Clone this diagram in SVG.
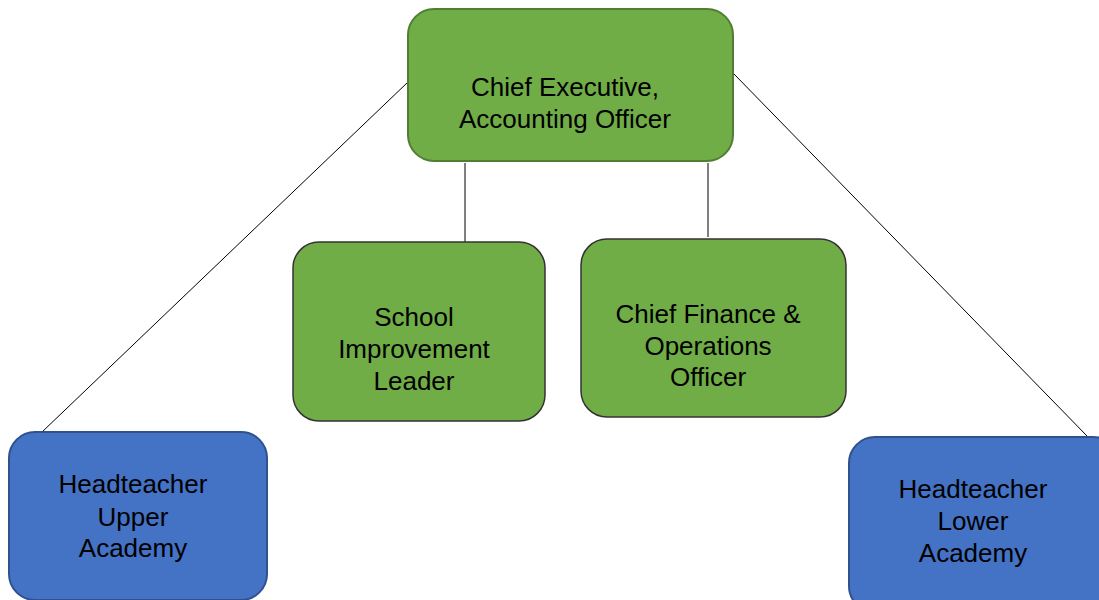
<svg xmlns="http://www.w3.org/2000/svg" width="1099" height="600" viewBox="0 0 1099 600">
<style>
.g{fill:#70ad47;stroke:#333;stroke-width:1.5}
.gt{fill:#70ad47;stroke:#507e32;stroke-width:2}
.b{fill:#4472c4;stroke:#2f528f;stroke-width:2}
text{font-family:"Liberation Sans",Arial,sans-serif;font-size:26px;fill:#000;text-anchor:middle}
.c line{stroke:#000;stroke-width:1}
</style>
<rect width="1099" height="600" fill="#fff"/>
<g class="c" id="connectors">
<line x1="408" y1="82" x2="42" y2="432"/>
<line x1="734" y1="74" x2="1088" y2="437"/>
<line x1="465" y1="163" x2="465" y2="242"/>
<line x1="708" y1="163" x2="708" y2="237"/>
</g>
<g id="ceo">
<rect class="gt" x="408" y="9" width="325" height="152" rx="26"/>
<text x="565" y="96">Chief Executive,</text>
<text x="565" y="128">Accounting Officer</text>
</g>
<g id="sil">
<rect class="g" x="293" y="242" width="252" height="179" rx="26"/>
<text x="414" y="326">School</text>
<text x="414" y="358">Improvement</text>
<text x="414" y="390">Leader</text>
</g>
<g id="cfo">
<rect class="g" x="581" y="239" width="265" height="178" rx="26"/>
<text x="708" y="323">Chief Finance &amp;</text>
<text x="708" y="355">Operations</text>
<text x="708" y="386">Officer</text>
</g>
<g id="htu">
<rect class="b" x="9" y="432" width="258" height="168" rx="26"/>
<text x="133" y="493">Headteacher</text>
<text x="133" y="526">Upper</text>
<text x="133" y="557">Academy</text>
</g>
<g id="htl">
<rect class="b" x="849" y="437" width="270" height="175" rx="26"/>
<text x="973" y="498">Headteacher</text>
<text x="973" y="530">Lower</text>
<text x="973" y="562">Academy</text>
</g>
</svg>
